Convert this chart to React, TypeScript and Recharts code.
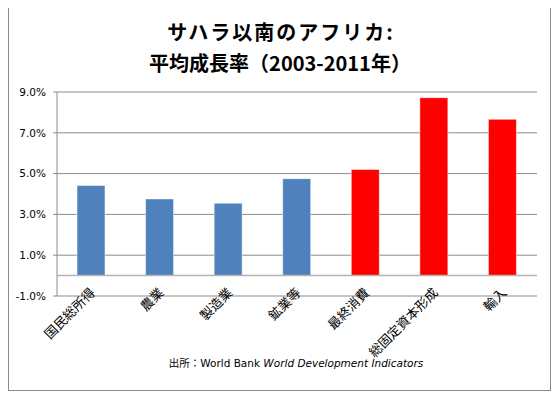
import { BarChart, Bar, XAxis, YAxis, CartesianGrid, ReferenceLine, Cell } from 'recharts';

const categories = ['国民総所得', '農業', '製造業', '鉱業等', '最終消費', '総固定資本形成', '輸入'];
const growth = [4.42, 3.76, 3.55, 4.75, 5.2, 8.72, 7.66];
const barColors = ['#4F81BD', '#4F81BD', '#4F81BD', '#4F81BD', '#FF0000', '#FF0000', '#FF0000'];
const yTicks = [-1, 1, 3, 5, 7, 9];

const titleLine1 = 'サハラ以南のアフリカ:';
const titleLine2 = '平均成長率（2003-2011年）';

const chartData = categories.map((name, i) => ({ name, value: growth[i], color: barColors[i] }));

const jpFont = '"Noto Sans CJK JP", "DejaVu Sans", sans-serif';

const XTick = (props: any) => {
  const { x, y, payload } = props;
  return (
    <g transform={`translate(${x - 1},${y - 16})`}>
      <text
        x={0}
        y={0}
        dy={8}
        textAnchor="end"
        transform="rotate(-45)"
        fontSize={13}
        fontFamily={jpFont}
        fill="#000"
      >
        {payload.value}
      </text>
    </g>
  );
};

export default function App() {
  return (
    <div style={{ position: 'relative', width: 543, height: 385, overflow: 'visible' }}>
      <style>{'html,body{overflow:hidden;}'}</style>
      {/* page coords = these coords + 8 */}
      <div
        style={{
          position: 'absolute',
          left: 0,
          top: -2,
          width: 541,
          height: 383,
          border: '1px solid #8a8a8a',
        }}
      />
      <div
        style={{
          position: 'absolute',
          left: -8,
          top: 8,
          width: 560,
          textAlign: 'center',
          fontFamily: jpFont,
          fontWeight: 'bold',
          fontSize: 20,
          lineHeight: '31px',
          color: '#000',
        }}
      >
        <div style={{ letterSpacing: 2, paddingLeft: 2 }}>{titleLine1}</div>
        <div>{titleLine2}</div>
      </div>
      <div style={{ position: 'absolute', left: -8, top: -8 }}>
        <BarChart
          width={558}
          height={380}
          data={chartData}
          margin={{ top: 92, right: 21, bottom: 14, left: 7 }}
          barSize={28}
        >
          <CartesianGrid vertical={false} stroke="#8c8c8c" />
          <XAxis
            dataKey="name"
            interval={0}
            axisLine={false}
            tickLine={false}
            tick={<XTick />}
            height={70}
          />
          <YAxis
            domain={[-1, 9]}
            ticks={yTicks}
            width={50}
            stroke="#8c8c8c"
            tickSize={4}
            tickMargin={7}
            tickFormatter={(v: number) => `${v.toFixed(1)}%`}
            tick={{ fontSize: 10.5, fill: '#000', fontFamily: '"DejaVu Sans", sans-serif' }}
          />
          <ReferenceLine y={0} stroke="#b4b4b4" strokeWidth={1.5} />
          <Bar dataKey="value" isAnimationActive={false} stroke="#ffffff" strokeOpacity={0.5}>
            {chartData.map((d) => (
              <Cell key={d.name} fill={d.color} />
            ))}
          </Bar>
        </BarChart>
      </div>
      <div
        style={{
          position: 'absolute',
          left: -8,
          top: 347,
          width: 558,
          paddingLeft: 34,
          boxSizing: 'border-box',
          textAlign: 'center',
          fontSize: 10.5,
          fontFamily: '"DejaVu Sans", sans-serif',
          color: '#000',
        }}
      >
        <span style={{ fontFamily: jpFont }}>出所：</span>World Bank <i>World Development Indicators</i>
      </div>
    </div>
  );
}
